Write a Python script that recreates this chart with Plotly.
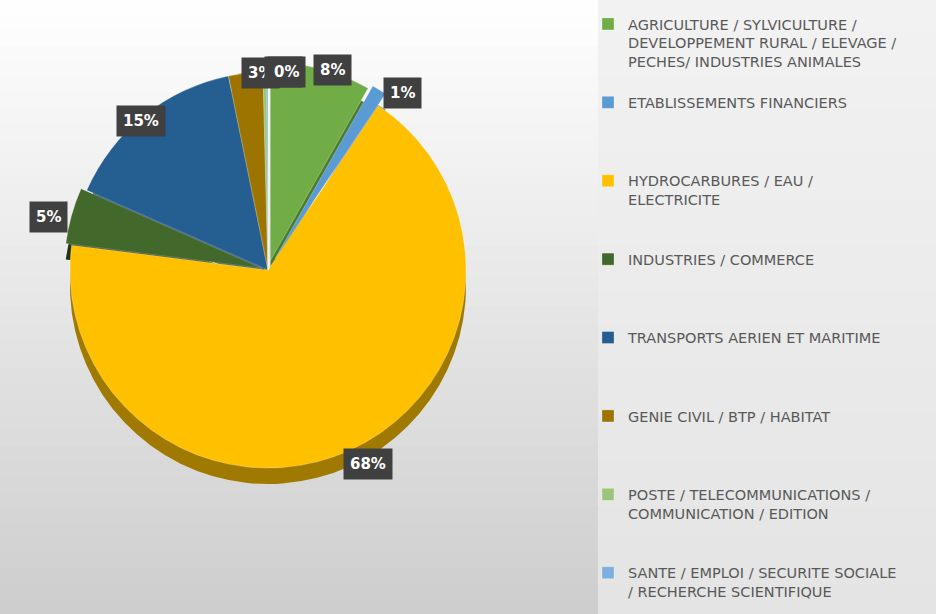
import math
import plotly.graph_objects as go

# ---- data ----
categories = [
    "AGRICULTURE / SYLVICULTURE /<br>DEVELOPPEMENT RURAL / ELEVAGE /<br>PECHES/ INDUSTRIES ANIMALES",
    "ETABLISSEMENTS FINANCIERS",
    "HYDROCARBURES / EAU /<br>ELECTRICITE",
    "INDUSTRIES / COMMERCE",
    "TRANSPORTS AERIEN ET MARITIME",
    "GENIE CIVIL / BTP / HABITAT",
    "POSTE / TELECOMMUNICATIONS /<br>COMMUNICATION / EDITION",
    "SANTE / EMPLOI / SECURITE SOCIALE<br>/ RECHERCHE SCIENTIFIQUE",
]
shares = [8.2, 1.2, 67.6, 4.6, 15.2, 2.8, 0.3, 0.1]

# ---- styles ----
colors = ["#70AD47", "#5B9BD5", "#FFC000", "#43682B",
          "#255E91", "#9E7400", "#9BC57A", "#7CAFDD"]
side_colors = ["#4A7A2C", "#3F77A8", "#A07A00", "#1E3312",
               "#163C5E", "#6A4E00", "#6F9A50", "#5587B5"]
pulls = [0.05, 0.07, 0.0, 0.03, 0.0, 0.0, 0.0, 0.0]

W, H = 936, 614
cx, cy = 268, 270          # pie centre in pixels (from top-left)
r = 198                    # pie radius in pixels
depth = 16                 # 3D side thickness in pixels
max_pull = max(pulls)
half = r * (1 + max_pull)  # half size of the domain so plotly uses radius r

# legend labels padded to equal heights (Excel-like spacing)
LINES = 4
legend_labels = []
for i, c in enumerate(categories):
    n = c.count("<br>") + 1
    pad = (LINES - n) if i < len(categories) - 1 else 0
    legend_labels.append(c + "<br>\u00a0" * pad)


def dom(offset):
    return dict(x=[(cx - half) / W, (cx + half) / W],
                y=[(H - cy - offset - half) / H, (H - cy - offset + half) / H])


fig = go.Figure()

# side (depth) of the 3D pie
fig.add_trace(go.Pie(
    labels=legend_labels, values=shares, sort=False, direction="clockwise",
    rotation=0, pull=pulls, marker=dict(colors=side_colors, line=dict(width=0)),
    textinfo="none", hoverinfo="skip", domain=dom(depth), showlegend=False,
))

# top face
fig.add_trace(go.Pie(
    labels=legend_labels, values=shares, sort=False, direction="clockwise",
    rotation=0, pull=pulls,
    marker=dict(colors=colors, line=dict(color="rgba(255,255,255,0.45)", width=0.6)),
    textinfo="none", hoverinfo="percent", domain=dom(0), showlegend=True,
))

# data labels in dark boxes, placed from the slice mid-angles
total = sum(shares)
cum = 0.0
annotations = []
for v, p in zip(shares, pulls):
    mid = (cum + v / 2) / total * 2 * math.pi
    cum += v
    px = cx + (r * (1 + p) + 44) * math.sin(mid)
    py = cy + depth / 2 - (r * (1 + p) + 24) * math.cos(mid)
    annotations.append(dict(
        x=px / W, y=1 - py / H, xref="paper", yref="paper",
        text="<b>%d%%</b>" % round(v / total * 100),
        showarrow=False, bgcolor="#404040",
        font=dict(color="white", size=15, family="DejaVu Sans"),
        borderpad=6,
    ))

# background gradient (left) and legend panel (right)
shapes = []
N = 40
split = 598
eps = 0.004
for k in range(N):
    t = k / (N - 1)
    g = int(round(254 - t * (254 - 206)))
    shapes.append(dict(type="rect", xref="paper", yref="paper",
                       x0=0, x1=split / W, y0=1 - (k + 1) / N - eps, y1=1 - k / N,
                       fillcolor="rgb(%d,%d,%d)" % (g, g, g), line=dict(width=0),
                       layer="below"))
    g2 = int(round(242 - t * (242 - 228)))
    shapes.append(dict(type="rect", xref="paper", yref="paper",
                       x0=split / W, x1=1, y0=1 - (k + 1) / N - eps, y1=1 - k / N,
                       fillcolor="rgb(%d,%d,%d)" % (g2, g2, g2), line=dict(width=0),
                       layer="below"))

fig.update_layout(
    width=W, height=H,
    margin=dict(l=0, r=0, t=0, b=0),
    paper_bgcolor="#ececec",
    plot_bgcolor="rgba(0,0,0,0)",
    shapes=shapes,
    annotations=annotations,
    legend=dict(
        x=588 / W, y=1 - 8 / H, xanchor="left", yanchor="top",
        valign="top", maxheight=1,
        font=dict(family="DejaVu Sans", size=14.5, color="#595959"),
        bgcolor="rgba(0,0,0,0)",
        itemclick=False, itemdoubleclick=False,
    ),
)

fig.write_html("out.html",
               config={"displayModeBar": False},
               post_script="document.body.style.margin='0';document.body.style.overflow='hidden';")
